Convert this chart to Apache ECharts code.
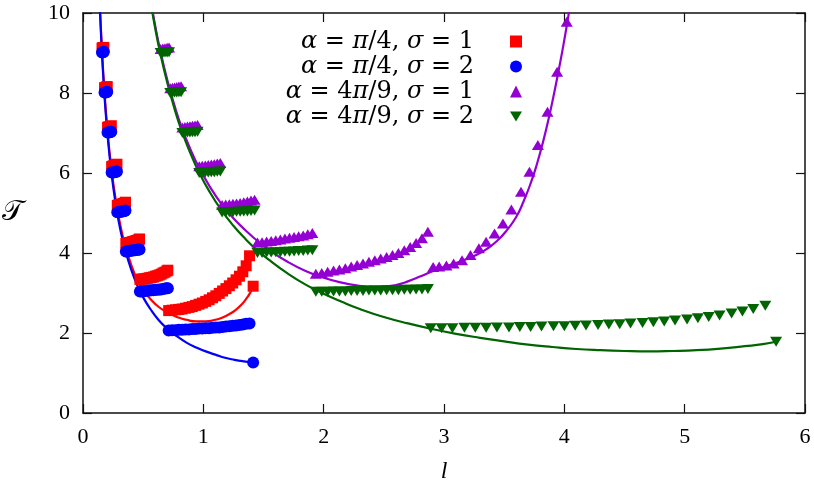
<!DOCTYPE html>
<html><head><meta charset="utf-8">
<script src="https://cdn.jsdelivr.net/npm/echarts@6/dist/echarts.min.js"></script>
<style>html,body{margin:0;padding:0;background:#fff}#c{width:814px;height:487px}</style>
</head><body><div id="c"></div>
<script>
// ---- data ----
const seriesNames = ['α = π/4, σ = 1', 'α = π/4, σ = 2', 'α = 4π/9, σ = 1', 'α = 4π/9, σ = 2'];
const xTicks = [0, 1, 2, 3, 4, 5, 6];
const yTicks = [0, 2, 4, 6, 8, 10];

// alpha = pi/4, sigma = 1 (red squares)
const redPts = [
 [0.158,9.12],[0.163,9.13],[0.168,9.13],[0.173,9.14],
 [0.179,8.13],[0.185,8.13],[0.191,8.14],[0.197,8.15],[0.201,8.16],
 [0.204,7.14],[0.211,7.15],[0.218,7.15],[0.225,7.16],[0.231,7.17],[0.235,7.18],
 [0.238,6.16],[0.246,6.17],[0.254,6.18],[0.262,6.19],[0.270,6.20],[0.277,6.21],[0.282,6.22],
 [0.285,5.19],[0.294,5.20],[0.303,5.20],[0.312,5.21],[0.321,5.22],[0.330,5.23],[0.339,5.24],[0.347,5.25],[0.353,5.27],
 [0.356,4.24],[0.367,4.25],[0.378,4.25],[0.389,4.26],[0.400,4.27],[0.411,4.28],[0.422,4.29],[0.433,4.30],[0.444,4.31],[0.455,4.32],[0.465,4.34],[0.470,4.35],
 [0.473,3.34],[0.489,3.35],[0.505,3.35],[0.521,3.36],[0.537,3.37],[0.553,3.38],[0.569,3.39],[0.585,3.40],[0.601,3.42],[0.617,3.43],[0.633,3.45],[0.649,3.47],[0.665,3.50],[0.681,3.52],[0.697,3.55],[0.705,3.57],
 [0.712,2.56],[0.740,2.57],[0.768,2.58],[0.796,2.59],[0.824,2.60],[0.852,2.62],[0.880,2.64],[0.908,2.66],[0.936,2.69],[0.964,2.72],[0.992,2.75],[1.020,2.79],[1.048,2.83],[1.076,2.88],[1.104,2.93],[1.132,2.99],[1.160,3.05],[1.188,3.11],[1.216,3.18],[1.244,3.25],[1.272,3.33],[1.300,3.42],[1.328,3.53],[1.356,3.68],[1.384,3.93],
 [1.414,3.17]
];
// alpha = pi/4, sigma = 2 (blue circles)
const bluePts = [
 [0.158,9.01],[0.163,9.02],[0.168,9.02],[0.173,9.03],
 [0.179,8.01],[0.185,8.01],[0.191,8.02],[0.197,8.02],[0.201,8.03],
 [0.204,7.01],[0.211,7.01],[0.218,7.02],[0.225,7.02],[0.231,7.03],[0.235,7.03],
 [0.238,6.01],[0.246,6.01],[0.254,6.02],[0.262,6.02],[0.270,6.03],[0.277,6.03],[0.282,6.04],
 [0.285,5.02],[0.294,5.02],[0.303,5.03],[0.312,5.03],[0.321,5.04],[0.330,5.04],[0.339,5.05],[0.347,5.05],[0.353,5.06],
 [0.356,4.04],[0.367,4.04],[0.378,4.05],[0.389,4.05],[0.400,4.06],[0.411,4.06],[0.422,4.07],[0.433,4.07],[0.444,4.08],[0.455,4.08],[0.465,4.09],[0.470,4.09],
 [0.473,3.04],[0.489,3.04],[0.505,3.05],[0.521,3.05],[0.537,3.06],[0.553,3.06],[0.569,3.07],[0.585,3.07],[0.601,3.08],[0.617,3.08],[0.633,3.09],[0.649,3.09],[0.665,3.10],[0.681,3.11],[0.697,3.12],[0.705,3.12],
 [0.712,2.06],[0.740,2.07],[0.768,2.07],[0.796,2.08],[0.824,2.08],[0.852,2.09],[0.880,2.09],[0.908,2.10],[0.936,2.10],[0.964,2.11],[0.992,2.11],[1.020,2.12],[1.048,2.12],[1.076,2.13],[1.104,2.14],[1.132,2.14],[1.160,2.15],[1.188,2.16],[1.216,2.17],[1.244,2.18],[1.272,2.19],[1.300,2.20],[1.328,2.21],[1.356,2.23],[1.384,2.24],
 [1.414,1.26]
];
// alpha = 4pi/9, sigma = 1 (purple triangles)
const purplePts = [
 [0.645,9.10],[0.663,9.11],[0.681,9.12],[0.699,9.13],[0.715,9.14],
 [0.725,8.12],[0.743,8.13],[0.761,8.14],[0.779,8.15],[0.797,8.16],[0.815,8.17],
 [0.826,7.14],[0.847,7.15],[0.868,7.16],[0.889,7.17],[0.910,7.18],[0.931,7.19],[0.952,7.20],
 [0.966,6.17],[0.991,6.18],[1.016,6.19],[1.041,6.20],[1.066,6.21],[1.091,6.22],[1.116,6.24],[1.141,6.25],
 [1.156,5.20],[1.186,5.21],[1.216,5.22],[1.246,5.23],[1.276,5.24],[1.306,5.25],[1.336,5.27],[1.366,5.29],[1.396,5.31],[1.426,5.33],
 [1.450,4.26],[1.488,4.27],[1.526,4.29],[1.564,4.30],[1.602,4.32],[1.640,4.34],[1.678,4.36],[1.716,4.38],[1.754,4.40],[1.792,4.42],[1.830,4.44],[1.868,4.47],[1.906,4.50],
 [1.935,3.48],[1.984,3.50],[2.033,3.53],[2.082,3.56],[2.131,3.59],[2.180,3.62],[2.229,3.66],[2.278,3.70],[2.327,3.74],[2.376,3.78],[2.425,3.82],[2.474,3.86],[2.523,3.90],[2.572,3.95],[2.621,4.00],[2.670,4.07],[2.719,4.15],[2.768,4.25],[2.817,4.37],[2.866,4.53],
 [2.910,3.65],[2.960,3.66],[3.020,3.69],[3.080,3.74],[3.150,3.82],[3.220,3.95],[3.290,4.12],[3.350,4.28],[3.420,4.49],[3.490,4.74],[3.560,5.09],[3.640,5.53],[3.710,6.03],[3.780,6.70],[3.860,7.53],[3.940,8.53],[4.020,9.78]
];
// alpha = 4pi/9, sigma = 2 (green down-triangles)
const greenPts = [
 [0.645,9.00],[0.663,9.00],[0.681,9.01],[0.699,9.01],[0.715,9.02],
 [0.725,8.00],[0.743,8.00],[0.761,8.01],[0.779,8.01],[0.797,8.02],[0.815,8.02],
 [0.826,7.00],[0.847,7.00],[0.868,7.01],[0.889,7.01],[0.910,7.02],[0.931,7.02],[0.952,7.03],
 [0.966,6.00],[0.991,6.00],[1.016,6.01],[1.041,6.01],[1.066,6.02],[1.091,6.02],[1.116,6.03],[1.141,6.04],
 [1.156,5.01],[1.186,5.01],[1.216,5.02],[1.246,5.02],[1.276,5.03],[1.306,5.03],[1.336,5.04],[1.366,5.04],[1.396,5.05],[1.426,5.06],
 [1.450,4.00],[1.488,4.00],[1.526,4.01],[1.564,4.01],[1.602,4.02],[1.640,4.02],[1.678,4.03],[1.716,4.03],[1.754,4.04],[1.792,4.05],[1.830,4.05],[1.868,4.06],[1.906,4.07],
 [1.935,3.03],[1.984,3.03],[2.033,3.03],[2.082,3.04],[2.131,3.04],[2.180,3.04],[2.229,3.05],[2.278,3.05],[2.327,3.05],[2.376,3.06],[2.425,3.06],[2.474,3.06],[2.523,3.07],[2.572,3.07],[2.621,3.07],[2.670,3.08],[2.719,3.08],[2.768,3.09],[2.817,3.09],[2.866,3.10],
 [2.89,2.12],[2.98,2.12],[3.07,2.12],[3.17,2.13],[3.26,2.13],[3.35,2.13],[3.44,2.14],[3.54,2.14],[3.63,2.15],[3.72,2.15],[3.81,2.16],[3.91,2.17],[4.00,2.17],[4.09,2.18],[4.18,2.19],[4.28,2.20],[4.37,2.21],[4.46,2.22],[4.55,2.24],[4.65,2.25],[4.74,2.27],[4.83,2.29],[4.92,2.31],[5.02,2.34],[5.11,2.37],[5.20,2.40],[5.29,2.44],[5.39,2.49],[5.48,2.54],[5.57,2.60],[5.67,2.68],
 [5.76,1.78]
];
// smooth theory curves
const redCurve = [[0.136,10.50],[0.141,10.13],[0.15,9.53],[0.16,8.94],[0.175,8.18],[0.19,7.55],[0.21,6.84],[0.23,6.26],[0.25,5.78],[0.28,5.18],[0.31,4.70],[0.35,4.19],[0.40,3.71],[0.45,3.34],[0.50,3.08],[0.56,2.85],[0.63,2.65],[0.70,2.52],[0.78,2.40],[0.86,2.33],[0.94,2.29],[1.02,2.29],[1.10,2.33],[1.16,2.39],[1.22,2.48],[1.27,2.58],[1.32,2.72],[1.36,2.87],[1.39,3.01],[1.414,3.16]];
const blueCurve = [[0.136,10.42],[0.141,10.05],[0.15,9.45],[0.16,8.86],[0.175,8.10],[0.19,7.46],[0.21,6.75],[0.23,6.17],[0.25,5.68],[0.28,5.07],[0.31,4.59],[0.35,4.08],[0.40,3.59],[0.45,3.20],[0.50,2.89],[0.56,2.60],[0.63,2.32],[0.70,2.11],[0.78,1.92],[0.86,1.76],[0.94,1.64],[1.02,1.54],[1.10,1.46],[1.18,1.38],[1.26,1.33],[1.34,1.29],[1.414,1.26]];
const purpleCurve = [[0.56,10.36],[0.60,9.68],[0.64,9.09],[0.70,8.33],[0.76,7.69],[0.82,7.14],[0.90,6.54],[0.96,6.16],[1.05,5.68],[1.15,5.23],[1.25,4.87],[1.35,4.57],[1.45,4.30],[1.55,4.07],[1.70,3.78],[1.85,3.55],[2.00,3.38],[2.15,3.26],[2.30,3.18],[2.40,3.155],[2.50,3.16],[2.60,3.20],[2.70,3.29],[2.80,3.41],[2.90,3.54],[3.00,3.65],[3.10,3.75],[3.19,3.85],[3.28,3.97],[3.35,4.09],[3.44,4.30],[3.52,4.56],[3.60,4.90],[3.66,5.28],[3.72,5.74],[3.77,6.20],[3.82,6.74],[3.87,7.36],[3.91,7.92],[3.95,8.52],[3.99,9.16],[4.03,9.86],[4.06,10.42]];
const greenCurve = [[0.56,10.31],[0.60,9.62],[0.64,9.02],[0.70,8.26],[0.76,7.61],[0.82,7.05],[0.90,6.44],[0.96,6.04],[1.05,5.54],[1.15,5.07],[1.25,4.68],[1.35,4.35],[1.44,4.09],[1.55,3.82],[1.70,3.49],[1.85,3.21],[2.00,2.98],[2.15,2.78],[2.30,2.60],[2.50,2.40],[2.70,2.24],[2.90,2.10],[3.10,1.98],[3.30,1.88],[3.50,1.79],[3.70,1.71],[3.90,1.65],[4.10,1.60],[4.30,1.57],[4.50,1.55],[4.70,1.54],[4.90,1.55],[5.10,1.57],[5.30,1.61],[5.50,1.67],[5.65,1.72],[5.76,1.78]];

const colors = ['#ff0000', '#0000ff', '#9400d3', '#006400'];
const downTri = 'path://M0,0 L12,0 L6,10 Z';

const chart = echarts.init(document.getElementById('c'), null, {renderer: 'canvas'});
const serifFont = "'Liberation Serif', 'DejaVu Serif', serif";
const legendFont = "'DejaVu Serif', 'Liberation Serif', serif";
const axisLineStyle = {color: '#111', width: 1.5};
function tickAxis(extra) {
  return Object.assign({
    type: 'value',
    axisLine: {show: true, onZero: false, lineStyle: axisLineStyle},
    axisTick: {show: true, inside: true, length: 9, lineStyle: {color: '#111', width: 1.2}},
    splitLine: {show: false},
    axisLabel: {show: false}
  }, extra);
}
function lineSeries(data, color) {
  return {type: 'line', data: data, symbol: 'none', smooth: 0.5,
    lineStyle: {color: color, width: 2.2}, silent: true, clip: true, z: 2};
}
chart.setOption({
  animation: false,
  backgroundColor: '#fff',
  grid: {left: 83, right: 9, top: 13, bottom: 74, containLabel: false, outerBoundsMode: 'none'},
  legend: {
    data: seriesNames,
    orient: 'vertical', align: 'right',
    right: 287, top: 24,
    itemWidth: 12, itemHeight: 12, itemGap: 0,
    formatter: n => n.replace(/([απσ])/g, '{i|$1}') + '{g|}',
    textStyle: {fontFamily: legendFont, fontSize: 24, lineHeight: 25, color: '#000',
      rich: {i: {fontFamily: legendFont, fontSize: 24, lineHeight: 25, fontStyle: 'italic', color: '#000'},
             g: {width: 31, lineHeight: 25}}}
  },
  xAxis: [
    tickAxis({min: xTicks[0], max: xTicks[xTicks.length - 1], interval: 1, position: 'bottom',
      name: 'l', nameLocation: 'middle', nameGap: 47,
      nameTextStyle: {fontFamily: serifFont, fontSize: 24, fontStyle: 'italic', color: '#000'},
      axisLabel: {show: true, margin: 13, fontFamily: serifFont, fontSize: 22, color: '#000'}}),
    tickAxis({min: xTicks[0], max: xTicks[xTicks.length - 1], interval: 1, position: 'top'})
  ],
  yAxis: [
    tickAxis({min: yTicks[0], max: yTicks[yTicks.length - 1], interval: 2, position: 'left',
      name: '𝒯', nameLocation: 'middle', nameGap: 60, nameRotate: 0,
      nameTextStyle: {fontFamily: "'DejaVu Serif', 'DejaVu Sans', serif", fontSize: 28, color: '#000'},
      axisLabel: {show: true, margin: 13, fontFamily: serifFont, fontSize: 22, color: '#000'}}),
    tickAxis({min: yTicks[0], max: yTicks[yTicks.length - 1], interval: 2, position: 'right'})
  ],
  series: [
    {type: 'scatter', name: seriesNames[0], data: redPts, symbol: 'rect', symbolSize: 11,
      itemStyle: {color: colors[0], opacity: 1}, z: 3},
    lineSeries(redCurve, colors[0]),
    {type: 'scatter', name: seriesNames[1], data: bluePts, symbol: 'circle', symbolSize: 12,
      itemStyle: {color: colors[1], opacity: 1}, z: 3},
    lineSeries(blueCurve, colors[1]),
    {type: 'scatter', name: seriesNames[2], data: purplePts, symbol: 'triangle', symbolSize: [12, 10],
      itemStyle: {color: colors[2], opacity: 1}, z: 3},
    lineSeries(purpleCurve, colors[2]),
    {type: 'scatter', name: seriesNames[3], data: greenPts, symbol: downTri, symbolSize: [12, 10],
      itemStyle: {color: colors[3], opacity: 1}, z: 3},
    lineSeries(greenCurve, colors[3])
  ]
});
</script></body></html>
